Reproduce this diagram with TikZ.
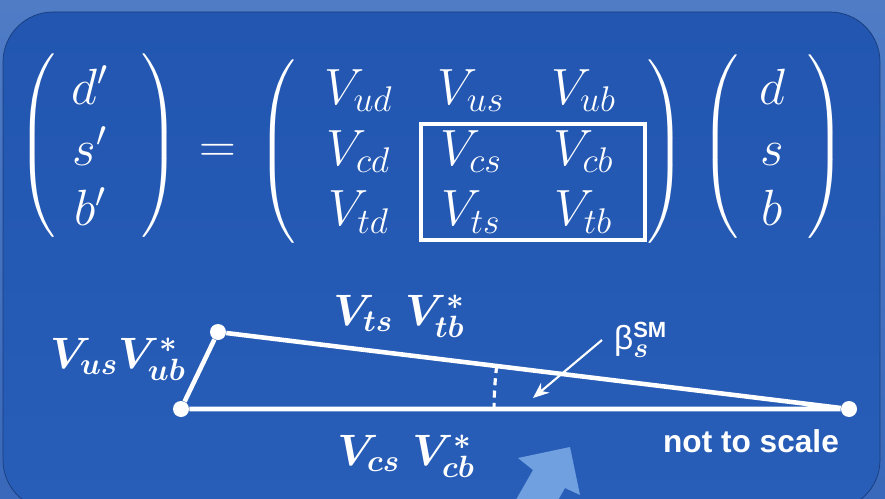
\RequirePackage{fix-cm}
\documentclass[tikz,border=0pt]{standalone}
\usepackage{amsmath}
\usepackage{bm}
\usepackage{fontspec}
\setsansfont{Liberation Sans}
\usetikzlibrary{arrows.meta, matrix, fit, angles}

\definecolor{fond}{RGB}{58,104,186}
\definecolor{fondclair}{RGB}{80,124,198}
\definecolor{panneau}{RGB}{34,86,176}
\definecolor{panneaubas}{RGB}{40,94,184}
\definecolor{bleuclair}{RGB}{112,160,224}

\begin{document}
\begin{tikzpicture}[
  x=0.02cm, y=0.02cm,
  font=\fontsize{29}{35}\selectfont,
  text=white,
  vecteur/.style={
    matrix of math nodes,
    left delimiter={(},
    right delimiter={)},
    row sep={1.22cm,between origins},
    column sep={2.25cm,between origins}
  },
  cadre/.style={
    draw=white,
    line width=2.3pt,
    inner xsep=0.4cm,
    inner ysep=0pt
  },
  sommet/.style={
    circle,
    fill=white,
    inner sep=0pt,
    minimum size=0.32cm
  },
  cote/.style={
    draw=white,
    line width=2.6pt
  },
  fleche/.style={
    -{Stealth[length=3.2mm, width=2.6mm]},
    draw=white,
    line width=1.2pt
  },
  etiquette/.style={
    inner sep=1pt,
    font=\fontsize{25}{30}\selectfont
  }
]
  % Fond
  \useasboundingbox (0,0) rectangle (885,498);
  \clip (0,0) rectangle (885,498);
  \shade[top color=fondclair, bottom color=fond] (0,0) rectangle (885,498);
  \shade[top color=panneau, bottom color=panneaubas, draw=panneau!70!black,
    rounded corners=1cm] (3,-12) rectangle (880,486);

  % Equation matricielle
  \begin{scope}[every left delimiter/.style={xshift=-0.04cm},
    every right delimiter/.style={xshift=0.38cm}]
    \matrix (dp) [vecteur, matrix anchor=dp-2-1.base] at (90,333) {
      d' \\ s' \\ b' \\
    };
  \end{scope}
  \node (egal) at (218,345) {$=$};
  \begin{scope}[every left delimiter/.style={xshift=-0.3cm},
    every right delimiter/.style={xshift=0.34cm}]
    \matrix (ckm) [vecteur, matrix anchor=ckm-2-2.base] at (471,333) {
      V_{ud} & V_{us} & V_{ub} \\
      V_{cd} & V_{cs} & V_{cb} \\
      V_{td} & V_{ts} & V_{tb} \\
    };
  \end{scope}
  \begin{scope}[every left delimiter/.style={xshift=-0.12cm},
    every right delimiter/.style={xshift=0.16cm}]
    \matrix (q) [vecteur, matrix anchor=q-2-1.base] at (772,333) {
      d \\ s \\ b \\
    };
  \end{scope}
  \node[cadre, xshift=0.14cm, fit=(ckm-2-2)(ckm-3-3)] (bloc) {};

  % Triangle d'unitarite
  \node[sommet] (A) at (181,89) {};
  \node[sommet] (B) at (218,166) {};
  \node[sommet] (C) at (849,89) {};
  \draw[cote] (A) -- (B) -- (C) -- (A);
  \pic[draw=white, line width=1.8pt, dash pattern=on 4pt off 3pt,
    angle radius=7.1cm] {angle=B--C--A};

  % Etiquettes
  \node[etiquette, anchor=base] (gauche) at (118,130) {$\bm{V_{us}V_{ub}^{*}}$};
  \node[etiquette, anchor=base] (haut) at (399,173) {$\bm{V_{ts}\;V_{tb}^{*}}$};
  \node[etiquette, anchor=base] (bas) at (406,33) {$\bm{V_{cs}\;V_{cb}^{*}}$};
  \node[etiquette, anchor=base, font=\fontsize{18}{21}\selectfont\sffamily\bfseries]
    (echelle) at (751,46) {not to scale};
  \node[etiquette, anchor=west, font=\fontsize{19}{22}\selectfont\sffamily]
    (beta) at (612,158) {β$^{\text{\fontsize{12.5}{14}\selectfont\bfseries SM}}_{\text{\fontsize{16}{18}\selectfont$\bm{s}$}}$};
  \coordinate (pointe) at (533,100);
  \draw[fleche] ([xshift=-0.2cm]beta.west) -- (pointe);

  % Fleche bleue en bas
  \fill[bleuclair] (570,51) -- (518,40) -- (533,28) -- (505,-21)
    -- (553,-11) -- (565,10) -- (580,3) -- cycle;
\end{tikzpicture}
\end{document}
